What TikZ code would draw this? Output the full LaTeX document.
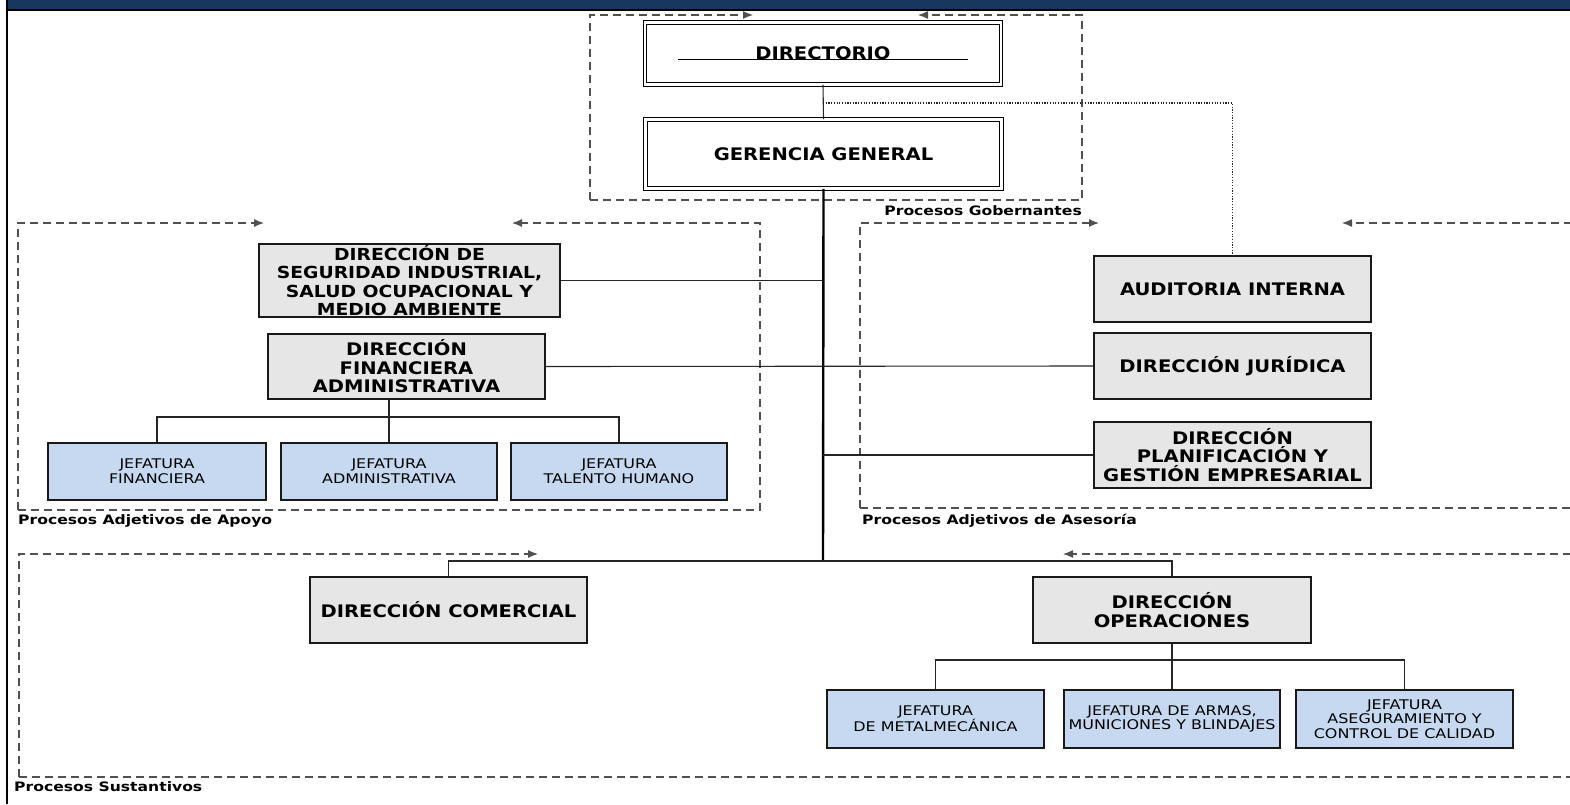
\documentclass[tikz,border=0pt]{standalone}
\usepackage{fontspec}
\usepackage{tikz}
\usetikzlibrary{arrows.meta}
\newfontfamily\orgfont[FakeStretch=1.2]{DejaVu Sans}
\newfontfamily\unitfont[FakeStretch=1.13]{DejaVu Sans}
\definecolor{barblue}{HTML}{17375E}
\definecolor{unitgray}{HTML}{E6E6E6}
\definecolor{unitblue}{HTML}{C6D9F0}
\definecolor{framegray}{HTML}{505050}

\begin{document}
\begin{tikzpicture}[x=1pt,y=-1pt,
  headbox/.style={draw=black,double,double distance=2.6pt,line width=0.9pt,fill=white,minimum width=356pt,inner sep=0pt,font=\unitfont\bfseries\fontsize{17.3}{18.5}\selectfont},
  unitbox/.style={draw=black!90,line width=1.2pt,fill=unitgray,inner sep=0pt,align=center,minimum height=66pt,font=\unitfont\bfseries\fontsize{17.3}{18.5}\selectfont},
  jefbox/.style={draw=black!90,line width=1.2pt,fill=unitblue,inner sep=0pt,align=center,font=\orgfont\fontsize{13.3}{14.7}\selectfont},
  proc/.style={draw=framegray,line width=1.2pt,dash pattern=on 8pt off 5pt},
  proctip/.style={-{Latex[length=10pt,width=8pt]}},
  proclabel/.style={inner sep=0pt,font=\orgfont\bfseries\fontsize{13}{15}\selectfont},
  link/.style={draw=black!85,line width=1.1pt}]
\useasboundingbox (0,0) rectangle (1570,804);
\clip (0,0) rectangle (1570,804);
\fill[white] (0,0) rectangle (1570,804);
\fill[barblue] (8,0) rectangle (1570,9);
\draw[line width=2pt] (8,10) -- (1570,10);
\draw[line width=2pt] (7,0) -- (7,804);

\draw[proc,proctip] (590,200) |- (753,15);
\draw[proc,proctip] (590,200) -| (1082,15) -- (918,15);
\draw[proc,proctip] (18,510) |- (264,223);
\draw[proc,proctip] (18,510) -| (760,223) -- (512,223);
\draw[proc,proctip] (860,508) |- (1099,223);
\draw[proc,proctip] (860,508) -| (1600,223) -- (1342,223);
\draw[proc,proctip] (19,777) |- (538,554);
\draw[proc,proctip] (19,777) -| (1600,554) -- (1063,554);

\node[proclabel,anchor=base east] (lgob) at (1082,215) {Procesos Gobernantes};
\node[proclabel,anchor=base west] (lapo) at (18,524) {Procesos Adjetivos de Apoyo};
\node[proclabel,anchor=base west] (lase) at (862,524) {Procesos Adjetivos de Asesoría};
\node[proclabel,anchor=base west] (lsus) at (14,791) {Procesos Sustantivos};

\node[headbox,minimum height=62pt] (dir) at (823,53.5) {DIRECTORIO};
\node[headbox,minimum height=69pt] (ger) at (823.5,154) {GERENCIA GENERAL};
\draw[line width=1pt] (678,59.5) -- (968,59.5);

\node[unitbox,minimum width=301pt,minimum height=73pt,font=\unitfont\bfseries\fontsize{16.6}{18.2}\selectfont] (seg) at (409.5,280.5) {DIRECCIÓN DE\\SEGURIDAD INDUSTRIAL,\\SALUD OCUPACIONAL Y\\MEDIO AMBIENTE};
\node[unitbox,minimum width=277pt,minimum height=65pt] (fin) at (406.5,366.5) {DIRECCIÓN\\FINANCIERA\\ADMINISTRATIVA};
\node[jefbox,minimum width=218pt,minimum height=57pt] (jf1) at (157,471.5) {JEFATURA\\FINANCIERA};
\node[jefbox,minimum width=216pt,minimum height=57pt] (jf2) at (389,471.5) {JEFATURA\\ADMINISTRATIVA};
\node[jefbox,minimum width=216pt,minimum height=57pt] (jf3) at (619,471.5) {JEFATURA\\TALENTO HUMANO};

\node[unitbox,minimum width=277pt] (aud) at (1232.5,289) {AUDITORIA INTERNA};
\node[unitbox,minimum width=277pt] (jur) at (1232.5,366) {DIRECCIÓN JURÍDICA};
\node[unitbox,minimum width=277pt] (pla) at (1232.5,455) {DIRECCIÓN\\PLANIFICACIÓN Y\\GESTIÓN EMPRESARIAL};

\node[unitbox,minimum width=277pt] (com) at (448.5,610) {DIRECCIÓN COMERCIAL};
\node[unitbox,minimum width=278pt] (ope) at (1172,610) {DIRECCIÓN\\OPERACIONES};
\node[jefbox,minimum width=217pt,minimum height=58pt] (jo1) at (935.5,719) {JEFATURA\\DE METALMECÁNICA};
\node[jefbox,minimum width=216pt,minimum height=58pt] (jo2) at (1172,719) {JEFATURA DE ARMAS,\\MUNICIONES Y BLINDAJES};
\node[jefbox,minimum width=217pt,minimum height=58pt] (jo3) at (1404.5,719) {JEFATURA\\ASEGURAMIENTO Y\\CONTROL DE CALIDAD};

\coordinate (tap) at (823,103);
\coordinate (hub) at (823,561);
\coordinate (finbus) at (389,417);
\coordinate (opebus) at (1172,660);
\draw[link] (dir.south) -- (ger.north);
\draw[link,dash pattern=on 1.2pt off 1.5pt] (tap) -| (aud.north);
\draw[line width=2.4pt] (ger.south) -- (hub);
\draw[link] (seg.east) -- (seg.east -| hub);
\draw[link] (fin.east) -- (jur.west);
\draw[link] (pla.west) -- (pla.west -| hub);
\draw[link] (com.north) |- (hub) -| (ope.north);
\draw[link] (jf2.north |- fin.south) -- (jf2.north);
\draw[link] (jf1.north) |- (finbus) -| (jf3.north);
\draw[link] (ope.south) -- (jo2.north);
\draw[link] (jo1.north) |- (opebus) -| (jo3.north);
\end{tikzpicture}
\end{document}
